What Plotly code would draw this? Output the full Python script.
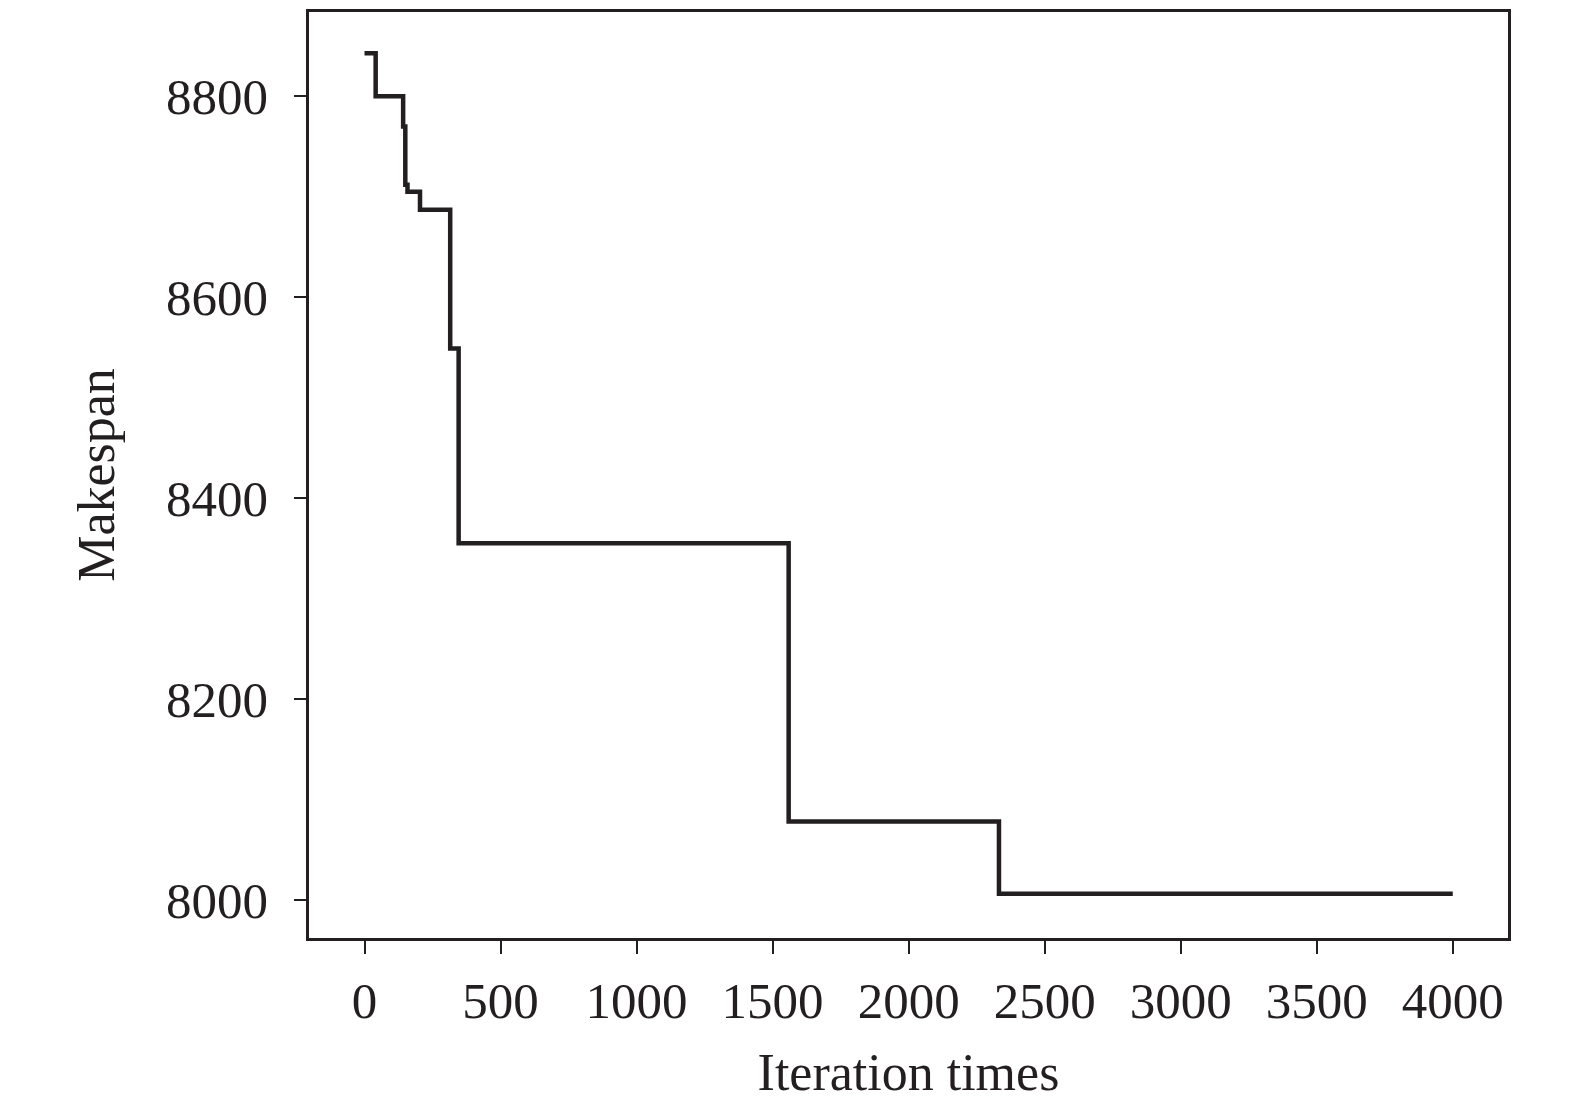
import plotly.graph_objects as go

# convergence curve (step changes only)
iterations = [0, 41, 142, 150, 158, 204, 315, 346, 1559, 2332, 4000]
makespan = [8843, 8800, 8770, 8712, 8705, 8687, 8549, 8355, 8078, 8006, 8006]

x_ticks = [0, 500, 1000, 1500, 2000, 2500, 3000, 3500, 4000]
y_ticks = [8000, 8200, 8400, 8600, 8800]

font_name = "Liberation Serif"
ink = "#231f20"

fig = go.Figure()
fig.add_trace(go.Scatter(x=iterations, y=makespan, mode="lines",
                         line=dict(shape="hv", color=ink, width=4.5),
                         showlegend=False))

fig.update_layout(
    width=1575, height=1110,
    margin=dict(l=301, r=75, t=1, b=180),
    plot_bgcolor="white", paper_bgcolor="white",
    font=dict(family=font_name, size=51, color=ink),
)
fig.update_xaxes(range=[-204, 4203], tickvals=x_ticks, ticks="outside",
                 ticklen=13, tickwidth=2, tickcolor=ink,
                 showline=True, linewidth=2.5, linecolor=ink, mirror=True,
                 showgrid=False, zeroline=False, ticklabelstandoff=3,
                 title=dict(text="Iteration times", standoff=26,
                            font=dict(size=52)))
fig.update_yaxes(range=[7962, 8884], tickvals=y_ticks, ticks="outside",
                 ticklen=12, tickwidth=2, tickcolor=ink,
                 showline=True, linewidth=2.5, linecolor=ink, mirror=True,
                 showgrid=False, zeroline=False, ticklabelstandoff=16,
                 title=dict(text="Makespan", standoff=35,
                            font=dict(size=52)))

fig.write_html("out.html")
